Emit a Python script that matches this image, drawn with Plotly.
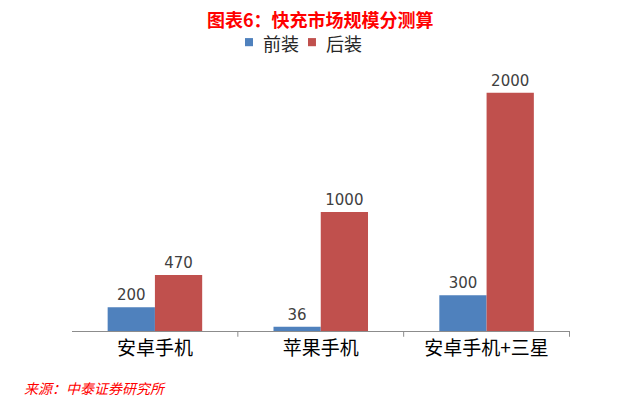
import plotly.graph_objects as go

categories = ['安卓手机', '苹果手机', '安卓手机+三星']
front = [200, 36, 300]
after = [470, 1000, 2000]
series_names = ['前装', '后装']
series_colors = ['#4F81BD', '#C0504D']

fig = go.Figure()
for name, vals, color in zip(series_names, [front, after], series_colors):
    fig.add_bar(x=categories, y=vals, name=name,
                marker=dict(color=color, line=dict(width=0)),
                text=vals, textposition='outside', cliponaxis=False,
                textfont=dict(size=15, color='#404040', family='DejaVu Sans'))

# page body has an 8px margin, so margins are offset to place the plot
fig.update_layout(
    width=640, height=402,
    barmode='group', bargap=0.43, bargroupgap=0,
    plot_bgcolor='white', paper_bgcolor='white',
    font=dict(family='Noto Sans CJK SC', color='#000000'),
    margin=dict(l=64, r=78, t=61, b=79, autoexpand=False),
    showlegend=False,
    xaxis=dict(showline=True, linecolor='#8C8C8C', linewidth=1, automargin=False,
               ticks='', tickfont=dict(size=19, color='#000000'),
               showgrid=False),
    yaxis=dict(range=[0, 2200], visible=False, showgrid=False, automargin=False),
)

# category divider ticks
for xv in [0.5, 1.5, 2.5]:
    fig.add_shape(type='line', xref='x', yref='paper', x0=xv, x1=xv, y0=0, y1=-0.022,
                  line=dict(color='#8C8C8C', width=1))

# title
fig.add_annotation(text='<b>图表6：快充市场规模分测算</b>', xref='paper', yref='paper',
                   x=0.498, y=1.19, xanchor='center', yanchor='middle', showarrow=False,
                   font=dict(size=18, color='#FF0000', family='Noto Sans CJK SC'))

# legend drawn by hand to keep the tight spacing of the original
for x0, name, color in zip([0.3474, 0.4739], series_names, series_colors):
    fig.add_shape(type='rect', xref='paper', yref='paper',
                  x0=x0, x1=x0 + 0.016, y0=1.087, y1=1.118,
                  fillcolor=color, line=dict(width=0))
    fig.add_annotation(text=name, xref='paper', yref='paper',
                       x=x0 + 0.032, y=1.101, xanchor='left', yanchor='middle',
                       showarrow=False, font=dict(size=18, color='#262626'))

fig.add_annotation(text='<i>来源：中泰证券研究所</i>', xref='paper', yref='paper',
                   x=-0.1, y=-0.218, xanchor='left', yanchor='middle', showarrow=False,
                   font=dict(size=14, color='#FF0000', family='Noto Sans CJK SC'))

fig.write_html("out.html")
